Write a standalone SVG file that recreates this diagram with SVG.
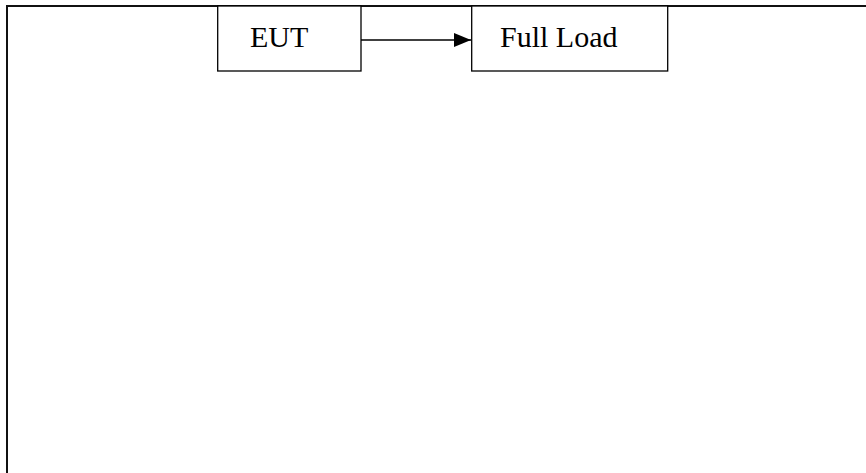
<svg xmlns="http://www.w3.org/2000/svg" width="866" height="473" viewBox="0 0 866 473">
<style>
.frame{fill:none;stroke:#111;stroke-width:2}
.box{fill:#fff;stroke:#000;stroke-width:1.3}
.lbl{font-family:"Liberation Serif","Times New Roman",serif;font-size:30px;fill:#000}
.conn{stroke:#000;stroke-width:1.3;fill:none}
</style>
<defs>
<marker id="ah" markerUnits="userSpaceOnUse" markerWidth="17" markerHeight="14" refX="17" refY="7" orient="auto">
<path d="M0,0 L17,7 L0,14 Z" fill="#000"/>
</marker>
</defs>
<rect x="0" y="0" width="866" height="473" fill="#fff"/>
<path class="frame" d="M7,473 V6 H866"/>
<g id="node-eut">
<rect class="box" x="217.7" y="6" width="143.3" height="65"/>
<text class="lbl" x="250" y="47">EUT</text>
</g>
<g id="node-fullload">
<rect class="box" x="471.7" y="6" width="196" height="65"/>
<text class="lbl" x="500" y="47">Full Load</text>
</g>
<g id="connectors">
<line class="conn" x1="361" y1="40" x2="471" y2="40" marker-end="url(#ah)"/>
</g>
</svg>
